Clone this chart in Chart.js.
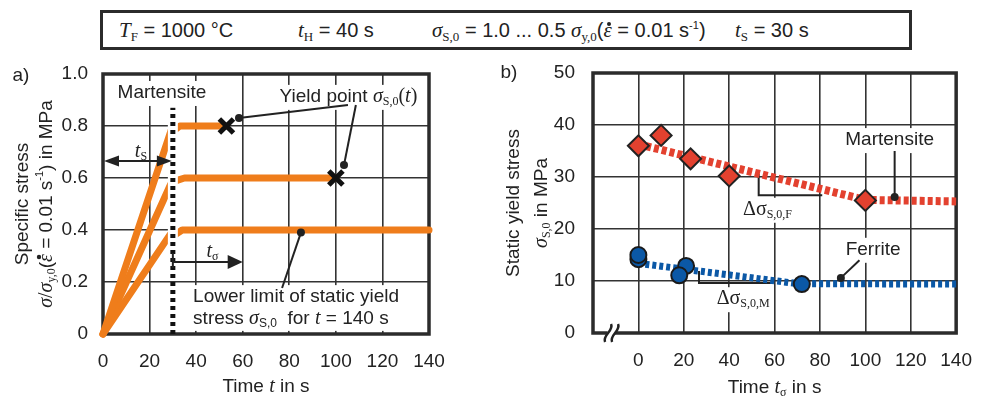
<!DOCTYPE html>
<html><head><meta charset="utf-8">
<script src="https://cdn.jsdelivr.net/npm/chart.js@4.4.1/dist/chart.umd.min.js"></script>
<style>
html,body{margin:0;padding:0;background:#fff;}
body{width:988px;height:396px;position:relative;overflow:hidden;font-family:"Liberation Sans",Arial,sans-serif;color:#222;}
#ca{position:absolute;left:0;top:0;}
#cb{position:absolute;left:470px;top:0;}
#hdr{position:absolute;left:100px;top:10px;width:806px;height:34px;border:3px solid #2b2b2b;}
#hdr span{position:absolute;top:0;line-height:34px;font-size:20px;white-space:nowrap;}
#hdr i{font-family:"Liberation Serif",serif;font-style:italic;font-size:21px;}
#hdr sub{font-family:"Liberation Serif",serif;font-size:13px;vertical-align:-4px;line-height:0;}
#hdr sup{font-size:11px;vertical-align:8px;line-height:0;}
#hdr .eps{position:relative;}
#hdr .eps:before{content:'';position:absolute;left:50%;top:4px;width:4px;height:4px;margin-left:-1px;border-radius:50%;background:#222;}
</style>
</head><body>
<div id="hdr">
  <span style="left:16px"><i>T</i><sub>F</sub> = 1000 °C</span>
  <span style="left:195px"><i>t</i><sub>H</sub> = 40 s</span>
  <span style="left:329px"><i>σ</i><sub>S,0</sub> = 1.0 ... 0.5 <i>σ</i><sub>y,0</sub>(<i class="eps">ε</i> = 0.01 s<sup>-1</sup>)</span>
  <span style="left:632px"><i>t</i><sub>S</sub> = 30 s</span>
</div>
<canvas id="ca" width="470" height="396"></canvas>
<canvas id="cb" width="518" height="396"></canvas>
<script>
// ---------- data: chart a ----------
const xTicksA = [0, 20, 40, 60, 80, 100, 120, 140];
const yTicksA = [0, 0.2, 0.4, 0.6, 0.8, 1.0];
const yLabelsA = ['0', '0.2', '0.4', '0.6', '0.8', '1.0'];
const curveHighT = [0, 29.5, 31.5, 33, 52];
const curveHighS = [0, 0.79, 0.79, 0.8, 0.8];
const curveMidT = [0, 29, 31.5, 35, 100];
const curveMidS = [0, 0.575, 0.59, 0.6, 0.6];
const curveLowT = [0, 29, 31.5, 34, 140];
const curveLowS = [0, 0.385, 0.385, 0.4, 0.4];
const holdT = [30, 30];
const holdS = [0, 0.87];
const holdMaskS = [0.3, 0.85];
const yieldT = [53, 100];
const yieldS = [0.8, 0.6];

// ---------- data: chart b ----------
const xTicksB = [0, 20, 40, 60, 80, 100, 120, 140];
const yTicksB = [0, 10, 20, 30, 40, 50];
const martT = [0, 10, 23, 40, 100];
const martS = [36, 38, 33.5, 30.2, 25.5];
const ferT = [0, 0, 21, 18, 72];
const ferS = [14.2, 15, 12.9, 11.1, 9.4];
const martTrendT = [0, 100, 140];
const martTrendS = [36.3, 25.6, 25.3];
const ferTrendT = [0, 70, 140];
const ferTrendS = [13.4, 9.5, 9.4];

// ---------- styles ----------
const SANS = '"Liberation Sans", Arial, sans-serif';
const SERIF = '"Liberation Serif", "Times New Roman", serif';
const INK = '#222';
const GRID = '#333';
const ORANGE = '#EF7D1B';
const RED = '#E3412F';
const BLUE = '#0B58A6';
const ST = {
  n: {f: '19px ' + SANS, dy: 0},
  i: {f: 'italic 20px ' + SERIF, dy: 0},
  r: {f: '20px ' + SERIF, dy: 0},
  s: {f: '12px ' + SERIF, dy: 5},
  ss: {f: '12px ' + SANS, dy: 5},
  p: {f: '11px ' + SANS, dy: -7}
};
const pts = (xs, ys) => xs.map((v, i) => ({x: v, y: ys[i]}));

function measure(ctx, segs) {
  let w = 0; const out = [];
  for (const s of segs) {
    const st = ST[s[1]]; ctx.font = st.f;
    const mw = ctx.measureText(s[0]).width;
    out.push({text: s[0], st, w: mw, x: w, dot: s[2] === 'dot'});
    w += mw;
  }
  return {w, out};
}
function drawRich(ctx, x, y, segs, align, rot, mode) {
  ctx.save(); ctx.translate(x, y); if (rot) ctx.rotate(rot);
  const {w, out} = measure(ctx, segs);
  const x0 = align === 'center' ? -w / 2 : align === 'right' ? -w : 0;
  if (mode === 'bg') { ctx.fillStyle = '#fff'; ctx.fillRect(x0 - 3, -12, w + 6, 25); }
  else {
    ctx.fillStyle = INK; ctx.textBaseline = 'middle'; ctx.textAlign = 'left';
    for (const o of out) {
      ctx.font = o.st.f; ctx.fillText(o.text, x0 + o.x, o.st.dy);
      if (o.dot) { ctx.beginPath(); ctx.arc(x0 + o.x + o.w / 2 + 1, -8, 2.2, 0, Math.PI * 2); ctx.fill(); }
    }
  }
  ctx.restore();
}
function leader(ctx, x1, y1, x2, y2) {
  ctx.save(); ctx.strokeStyle = INK; ctx.fillStyle = INK; ctx.lineWidth = 2;
  ctx.beginPath(); ctx.moveTo(x1, y1); ctx.lineTo(x2, y2); ctx.stroke();
  ctx.beginPath(); ctx.arc(x2, y2, 4, 0, Math.PI * 2); ctx.fill(); ctx.restore();
}
function head(ctx, x, y, dir, len, half) {
  ctx.beginPath(); ctx.moveTo(x, y); ctx.lineTo(x - dir * len, y - half); ctx.lineTo(x - dir * len, y + half); ctx.closePath(); ctx.fill();
}
function frame(ctx, a) {
  ctx.save(); ctx.strokeStyle = '#2b2b2b'; ctx.lineWidth = 3.5;
  ctx.strokeRect(a.left, a.top, a.right - a.left, a.bottom - a.top); ctx.restore();
}

// ---------- chart a annotations ----------
const labelsA = [
  {t: 25.3, s: 0.927, align: 'center', bg: true, segs: [['Martensite', 'n']]},
  {t: 105.4, s: 0.912, align: 'center', bg: true, segs: [['Yield point ', 'n'], ['σ', 'i'], ['S,0', 's'], ['(', 'r'], ['t', 'i'], [')', 'r']]},
  {t: 16.3, s: 0.70, align: 'center', segs: [['t', 'i'], ['S', 's']]},
  {t: 47, s: 0.315, align: 'center', segs: [['t', 'i'], ['σ', 's']]},
  {t: 38.7, s: 0.142, align: 'left', segs: [['Lower limit of static yield', 'n']]},
  {t: 38.7, s: 0.058, align: 'left', segs: [['stress ', 'n'], ['σ', 'i'], ['S,0', 'ss'], ['  for ', 'n'], ['t', 'i'], [' = 140 s', 'n']]}
];
const annoA = {
  id: 'annoA',
  beforeDatasetsDraw(chart) {
    const {ctx, chartArea: a, scales: {x, y}} = chart;
    ctx.save(); ctx.fillStyle = '#fff';
    const rx1 = x.getPixelForValue(35.6), rx2 = x.getPixelForValue(132.7);
    const ry1 = y.getPixelForValue(0.188), ry2 = y.getPixelForValue(0.012);
    ctx.fillRect(rx1, ry1, rx2 - rx1, ry2 - ry1);
    ctx.restore();
    for (const L of labelsA) if (L.bg) drawRich(ctx, x.getPixelForValue(L.t), y.getPixelForValue(L.s), L.segs, L.align, 0, 'bg');
    frame(ctx, a);
  },
  afterDatasetsDraw(chart) {
    const {ctx, chartArea: a, scales: {x, y}} = chart;
    for (const L of labelsA) drawRich(ctx, x.getPixelForValue(L.t), y.getPixelForValue(L.s), L.segs, L.align, 0, 'text');
    leader(ctx, x.getPixelForValue(105.2), y.getPixelForValue(0.881), x.getPixelForValue(58.4), y.getPixelForValue(0.831));
    leader(ctx, x.getPixelForValue(108.6), y.getPixelForValue(0.881), x.getPixelForValue(103.5), y.getPixelForValue(0.65));
    leader(ctx, x.getPixelForValue(76.9), y.getPixelForValue(0.177), x.getPixelForValue(85), y.getPixelForValue(0.39));
    ctx.save(); ctx.strokeStyle = INK; ctx.fillStyle = INK; ctx.lineWidth = 2;
    let ya = y.getPixelForValue(0.665), x1 = x.getPixelForValue(0), x2 = x.getPixelForValue(30);
    ctx.beginPath(); ctx.moveTo(x1 + 10, ya); ctx.lineTo(x2 - 10, ya); ctx.stroke();
    head(ctx, x1 + 1, ya, -1, 15, 5.5); head(ctx, x2 - 1, ya, 1, 15, 5.5);
    ya = y.getPixelForValue(0.277); x1 = x.getPixelForValue(30); x2 = x.getPixelForValue(60);
    ctx.beginPath(); ctx.moveTo(x1, ya); ctx.lineTo(x2 - 10, ya); ctx.stroke();
    ctx.beginPath(); ctx.moveTo(x1, y.getPixelForValue(0.312)); ctx.lineTo(x1, y.getPixelForValue(0.254)); ctx.stroke();
    head(ctx, x2, ya, 1, 15, 7);
    ctx.restore();
  },
  afterDraw(chart) {
    const {ctx, chartArea: a} = chart;
    drawRich(ctx, 21, 76, [['a)', 'n']], 'center', 0, 'text');
    drawRich(ctx, (a.left + a.right) / 2, 387, [['Time ', 'n'], ['t', 'i'], [' in s', 'n']], 'center', 0, 'text');
    const cy = (a.top + a.bottom) / 2;
    drawRich(ctx, 23, cy, [['Specific stress', 'n']], 'center', -Math.PI / 2, 'text');
    drawRich(ctx, 47, cy, [['σ', 'i'], ['/', 'r'], ['σ', 'i'], ['y,0', 's'], ['(', 'n'], ['ε', 'i', 'dot'], [' = 0.01 s', 'n'], ['-1', 'p'], [') in MPa', 'n']], 'center', -Math.PI / 2, 'text');
  }
};

// ---------- chart b annotations ----------
const labelsB = [
  {t: 110.7, v: 37.1, align: 'center', bg: true, segs: [['Martensite', 'n']]},
  {t: 103.4, v: 16.0, align: 'center', bg: true, segs: [['Ferrite', 'n']]},
  {t: 46.1, v: 23.7, align: 'left', bg: true, segs: [['Δσ', 'r'], ['S,0,F', 's']]},
  {t: 34.5, v: 6.5, align: 'left', bg: true, segs: [['Δσ', 'r'], ['S,0,M', 's']]}
];
const annoB = {
  id: 'annoB',
  beforeDatasetsDraw(chart) {
    const {ctx, chartArea: a, scales: {x, y}} = chart;
    for (const L of labelsB) if (L.bg) drawRich(ctx, x.getPixelForValue(L.t), y.getPixelForValue(L.v), L.segs, L.align, 0, 'bg');
    frame(ctx, a);
    ctx.save(); ctx.strokeStyle = INK; ctx.lineWidth = 2;
    ctx.beginPath();
    ctx.moveTo(x.getPixelForValue(53), y.getPixelForValue(30.6));
    ctx.lineTo(x.getPixelForValue(53), y.getPixelForValue(26.5));
    ctx.lineTo(x.getPixelForValue(81), y.getPixelForValue(26.5));
    ctx.moveTo(x.getPixelForValue(26.7), y.getPixelForValue(11.9));
    ctx.lineTo(x.getPixelForValue(26.7), y.getPixelForValue(9.6));
    ctx.lineTo(x.getPixelForValue(59), y.getPixelForValue(9.6));
    ctx.stroke(); ctx.restore();
  },
  afterDatasetsDraw(chart) {
    const {ctx, chartArea: a, scales: {x, y}} = chart;
    for (const L of labelsB) drawRich(ctx, x.getPixelForValue(L.t), y.getPixelForValue(L.v), L.segs, L.align, 0, 'text');
    leader(ctx, x.getPixelForValue(112.9), y.getPixelForValue(35), x.getPixelForValue(112.9), y.getPixelForValue(26.15));
    leader(ctx, x.getPixelForValue(97.4), y.getPixelForValue(14.0), x.getPixelForValue(89.2), y.getPixelForValue(10.6));
    const bx = x.getPixelForValue(-11.6), by = a.bottom;
    ctx.save(); ctx.fillStyle = '#fff';
    ctx.beginPath(); ctx.moveTo(bx - 8, by + 9); ctx.lineTo(bx - 2, by - 9); ctx.lineTo(bx + 6, by - 9); ctx.lineTo(bx, by + 9); ctx.closePath(); ctx.fill();
    ctx.strokeStyle = INK; ctx.lineWidth = 2.5;
    for (const dx of [-4, 3]) {
      ctx.beginPath(); ctx.moveTo(bx + dx - 3, by + 9);
      ctx.bezierCurveTo(bx + dx - 6, by + 2, bx + dx + 6, by - 2, bx + dx + 3, by - 9); ctx.stroke();
    }
    ctx.restore();
  },
  afterDraw(chart) {
    const {ctx, chartArea: a} = chart;
    drawRich(ctx, 39, 73, [['b)', 'n']], 'center', 0, 'text');
    drawRich(ctx, (a.left + a.right) / 2, 388, [['Time ', 'n'], ['t', 'i'], ['σ', 's'], [' in s', 'n']], 'center', 0, 'text');
    const cy = (a.top + a.bottom) / 2;
    drawRich(ctx, 44, cy, [['Static yield stress', 'n']], 'center', -Math.PI / 2, 'text');
    drawRich(ctx, 72, cy, [['σ', 'i'], ['S,0', 's'], [' in MPa', 'n']], 'center', -Math.PI / 2, 'text');
  }
};

function axis(min, max, ticks, labels, isX, fitSize, pad) {
  return {
    type: 'linear', min, max,
    afterBuildTicks: s => { s.ticks = ticks.map(v => ({value: v})); },
    afterFit: s => { if (isX) s.height = fitSize; else s.width = fitSize; },
    ticks: {
      padding: pad, color: INK, font: {family: SANS, size: 19},
      callback: (v, i) => labels ? labels[i] : String(ticks[i])
    },
    grid: {color: GRID, lineWidth: 1.6, drawTicks: false},
    border: {display: false}
  };
}
const lineDs = (d, color, w, order, extra) => Object.assign({
  data: d, showLine: true, borderColor: color, borderWidth: w, pointRadius: 0,
  borderCapStyle: 'round', borderJoinStyle: 'round', tension: 0, fill: false, clip: false, order
}, extra || {});

Chart.defaults.font.family = SANS;

new Chart(document.getElementById('ca'), {
  type: 'scatter',
  data: {datasets: [
    lineDs(pts(curveHighT, curveHighS), ORANGE, 7, 5),
    lineDs(pts(curveMidT, curveMidS), ORANGE, 7, 5),
    lineDs(pts(curveLowT, curveLowS), ORANGE, 7, 5),
    lineDs(pts(holdT, holdMaskS), '#fff', 10, 3, {borderCapStyle: 'butt'}),
    lineDs(pts(holdT, holdS), '#111', 5, 2, {borderCapStyle: 'butt', borderDash: [4, 4]}),
    {data: pts(yieldT, yieldS), showLine: false, pointStyle: 'crossRot', pointRadius: 10, pointBorderWidth: 5,
     borderColor: '#111', backgroundColor: '#111', clip: false, order: 0}
  ]},
  options: {
    responsive: false, animation: false, events: [],
    layout: {padding: {top: 74, right: 41, left: 0, bottom: 0}},
    plugins: {legend: {display: false}, tooltip: {enabled: false}},
    scales: {
      x: axis(0, 140, xTicksA, null, true, 62, 16),
      y: axis(0, 1, yTicksA, yLabelsA, false, 103, 15)
    }
  },
  plugins: [annoA]
});

new Chart(document.getElementById('cb'), {
  type: 'scatter',
  data: {datasets: [
    lineDs(pts(martTrendT, martTrendS), RED, 8, 5, {borderCapStyle: 'butt', borderDash: [5, 3]}),
    lineDs(pts(ferTrendT, ferTrendS), BLUE, 7, 5, {borderCapStyle: 'butt', borderDash: [4, 3]}),
    {data: pts(martT, martS), showLine: false, pointStyle: 'rectRot', pointRadius: 10.5, pointBorderWidth: 2,
     backgroundColor: RED, borderColor: '#222', clip: false, order: 1},
    {data: pts(ferT, ferS), showLine: false, pointStyle: 'circle', pointRadius: 8, pointBorderWidth: 2,
     backgroundColor: BLUE, borderColor: '#1a1a1a', clip: false, order: 1}
  ]},
  options: {
    responsive: false, animation: false, events: [],
    layout: {padding: {top: 73, right: 23, left: 0, bottom: 0}},
    plugins: {legend: {display: false}, tooltip: {enabled: false}},
    scales: {
      x: axis(-20, 140, xTicksB, null, true, 63, 16),
      y: axis(0, 50, yTicksB, null, false, 123, 18)
    }
  },
  plugins: [annoB]
});
</script>
</body></html>
